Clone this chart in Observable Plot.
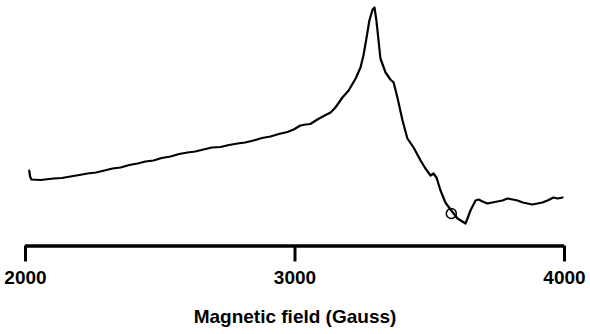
<!DOCTYPE html>
<html>
<head>
<meta charset="utf-8">
<script src="https://cdn.jsdelivr.net/npm/d3@7"></script>
<script src="https://cdn.jsdelivr.net/npm/@observablehq/plot@0.6"></script>
<style>
  html, body { margin: 0; padding: 0; background: #fff; }
  svg { display: block; }
</style>
</head>
<body>
<div id="chart"></div>
<script>
// Magnetic field (Gauss)
const field = [2014, 2017, 2022, 2056, 2104, 2135, 2167, 2200, 2230, 2262, 2293, 2323, 2353, 2385, 2416, 2445, 2475, 2505, 2538, 2570, 2601, 2630, 2660, 2692, 2724, 2755, 2787, 2815, 2846, 2878, 2909, 2940, 2972, 2995, 3020, 3040, 3057, 3083, 3110, 3132, 3150, 3176, 3199, 3225, 3243, 3254, 3265, 3276, 3288, 3295, 3302, 3310, 3317, 3336, 3354, 3366, 3380, 3399, 3417, 3440, 3466, 3484, 3503, 3514, 3525, 3540, 3558, 3577, 3603, 3633, 3651, 3670, 3681, 3696, 3714, 3732, 3751, 3770, 3788, 3808, 3826, 3845, 3863, 3880, 3900, 3918, 3937, 3959, 3975, 3993];
// EPR signal (arbitrary units)
const signal = [74, 68, 65, 64.5, 66, 66.5, 68, 69.5, 71, 72, 74, 76, 77, 79.5, 81, 83, 84, 86.5, 88, 90.5, 92, 93, 95, 97, 97.5, 99.5, 101, 102, 104, 106.5, 108, 110.5, 112.5, 115, 119, 120, 120.5, 125, 129, 132, 137, 147, 154, 166, 177, 189, 206, 224, 235, 237, 224, 204, 186, 172, 165, 162, 147, 124, 106, 97, 84, 76, 69, 71, 67, 54, 42, 35, 26, 21, 34, 44, 45, 43, 41, 42, 43, 44, 46, 45, 44, 42, 41, 40, 41, 42, 44, 47, 46, 47];
// Marked point
const markField = [3580];
const markSignal = [31];
const xTicks = [2000, 3000, 4000];
const xLabel = "Magnetic field (Gauss)";

const data = field.map((f, i) => ({field: f, signal: signal[i]}));
const marks = markField.map((f, i) => ({field: f, signal: markSignal[i]}));

const font = "'Liberation Sans', Arial, Helvetica, sans-serif";

const chart = Plot.plot({
  width: 590,
  height: 334,
  marginLeft: 25,
  marginRight: 26,
  marginTop: 4,
  marginBottom: 88.5,
  style: {fontFamily: font, background: "#fff", color: "#000"},
  x: {domain: [2000, 4000]},
  y: {domain: [-1.5, 240], axis: null},
  marks: [
    Plot.ruleY([-1.5], {stroke: "#000", strokeWidth: 3.5}),
    Plot.axisX({
      ticks: xTicks,
      tickFormat: d => String(d),
      tickSize: 16,
      tickPadding: 8,
      strokeWidth: 3,
      fontSize: 19,
      fontWeight: "bold",
      label: null
    }),
    Plot.line(data, {x: "field", y: "signal", stroke: "#000", strokeWidth: 2.2, strokeLinejoin: "round"}),
    Plot.dot(marks, {x: "field", y: "signal", r: 5, stroke: "#000", strokeWidth: 1.5, fill: "none"}),
    Plot.text([xLabel], {frameAnchor: "bottom", dy: 71, fontSize: 19, fontWeight: "bold", lineAnchor: "middle", fill: "#000"})
  ]
});
document.getElementById("chart").appendChild(chart);
</script>
</body>
</html>
